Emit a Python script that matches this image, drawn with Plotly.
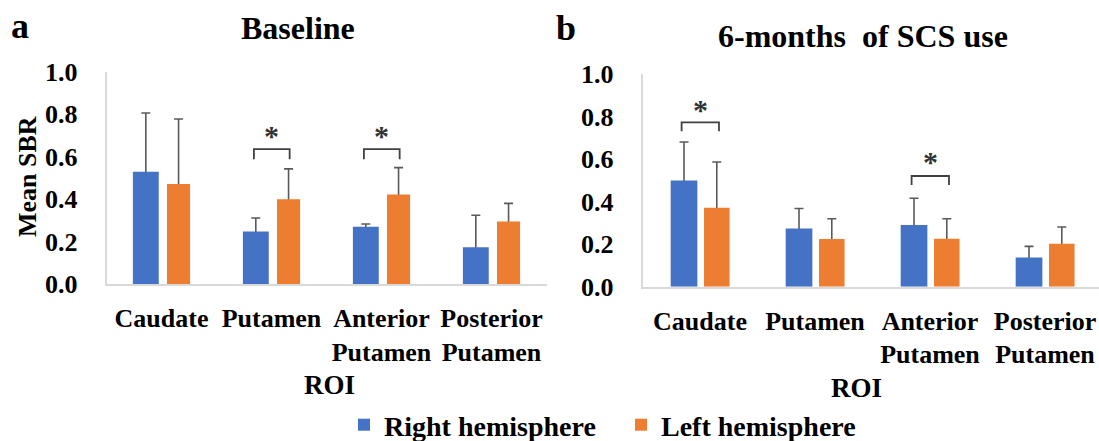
import plotly.graph_objects as go

# ---------------- data ----------------
categories = ["Caudate", "Putamen", "Anterior<br>Putamen", "Posterior<br>Putamen"]
cat_index = [0, 1, 2, 3]

baseline_right = [0.53, 0.248, 0.271, 0.174]
baseline_right_err = [0.276, 0.064, 0.013, 0.151]
baseline_left = [0.472, 0.40, 0.422, 0.295]
baseline_left_err = [0.306, 0.143, 0.127, 0.086]

six_right = [0.50, 0.274, 0.29, 0.138]
six_right_err = [0.181, 0.094, 0.126, 0.052]
six_left = [0.371, 0.225, 0.226, 0.202]
six_left_err = [0.216, 0.095, 0.094, 0.079]

# significance brackets: (panel, category index, bracket top, arm bottom, star y)
brackets = [
    ("a", 1, 0.636, 0.589, 0.70),
    ("a", 2, 0.636, 0.589, 0.70),
    ("b", 0, 0.773, 0.732, 0.836),
    ("b", 2, 0.521, 0.479, 0.59),
]

series_names = ["Right hemisphere", "Left hemisphere"]
BLUE = "#4472C4"
ORANGE = "#ED7D31"
ERR = "#595959"
AXIS = "#D9D9D9"
FONT = "Liberation Serif, Times New Roman, serif"

W, H = 1099, 441
HIDE = 0.012  # lower end of the error bar tucked inside the bar (one-sided look)

fig = go.Figure()

panels = [
    ("", baseline_right, baseline_right_err, baseline_left, baseline_left_err,
     (-0.26, 0.235, 0.05, 0.21), True),
    ("2", six_right, six_right_err, six_left, six_left_err,
     (-0.255, 0.232, 0.035, 0.222), False),
]

for suf, r, re_, l, le_, geom, show in panels:
    xa, ya = "x" + suf, "y" + suf
    bo, bw, oo, ow = geom
    for vals, errs, off, wid, color, name in [
        (r, re_, bo, bw, BLUE, series_names[0]),
        (l, le_, oo, ow, ORANGE, series_names[1]),
    ]:
        # carrier of the one-sided error bars (drawn beneath the visible bars)
        fig.add_trace(go.Bar(
            x=cat_index, y=vals, offset=off, width=wid, xaxis=xa, yaxis=ya,
            marker=dict(color="rgba(0,0,0,0)", line=dict(width=0)),
            error_y=dict(type="data", symmetric=False, array=errs,
                         arrayminus=[HIDE] * len(errs), color=ERR,
                         thickness=1.6, width=4.5),
            showlegend=False, hoverinfo="skip",
        ))
        fig.add_trace(go.Bar(
            x=cat_index, y=vals, offset=off, width=wid, xaxis=xa, yaxis=ya,
            marker=dict(color=color, line=dict(width=0)),
            name=name, showlegend=show,
        ))

tickfont = dict(family=FONT, size=26, color="black", weight="bold")

common_x = dict(
    tickmode="array", tickvals=cat_index, ticktext=categories,
    showline=True, linecolor=AXIS, linewidth=1.5, showgrid=False,
    zeroline=False, ticks="", tickfont=tickfont, ticklabelstandoff=10,
    ticklabeloverflow="allow", fixedrange=True,
)
common_y = dict(
    range=[0, 1.0], dtick=0.2, tickformat=".1f",
    showline=True, linecolor=AXIS, linewidth=1.5, showgrid=False,
    zeroline=False, ticks="", tickfont=tickfont, ticklabelstandoff=22,
    fixedrange=True,
)

RIGHT_START, RIGHT_STEP = 642.5, 115.0

fig.update_layout(
    width=W, height=H,
    font=dict(family=FONT, color="black"),
    margin=dict(l=0, r=0, t=0, b=0, autoexpand=False),
    paper_bgcolor="white", plot_bgcolor="white",
    barmode="overlay",
    xaxis=dict(domain=[106.5 / W, 546.5 / W], range=[-0.5, 3.5], anchor="y", **common_x),
    yaxis=dict(domain=[(H - 284.3) / H, (H - 71.8) / H], anchor="x", **common_y),
    xaxis2=dict(domain=[RIGHT_START / W, 1.0],
                range=[-0.5, -0.5 + (W - RIGHT_START) / RIGHT_STEP],
                anchor="y2", **common_x),
    yaxis2=dict(domain=[(H - 286.7) / H, (H - 74.2) / H], anchor="x2", **common_y),
    legend=dict(
        orientation="h", x=344 / W, xanchor="left", y=(H - 425) / H, yanchor="middle",
        font=dict(family=FONT, size=28, color="black", weight="bold"),
        bgcolor="rgba(0,0,0,0)", itemclick=False, itemdoubleclick=False,
        entrywidth=232, traceorder="normal",
    ),
    showlegend=True,
)

shapes = []
annotations = []
for panel, ci, ytop, ybot, ystar in brackets:
    xr, yr = ("x", "y") if panel == "a" else ("x2", "y2")
    x0, x1 = ci - 0.16, ci + 0.165
    shapes.append(dict(
        type="path", xref=xr, yref=yr,
        path=f"M {x0},{ybot} L {x0},{ytop} L {x1},{ytop} L {x1},{ybot}",
        line=dict(color="#404040", width=1.8),
    ))
    annotations.append(dict(
        x=(x0 + x1) / 2, y=ystar, xref=xr, yref=yr, text="*", showarrow=False,
        font=dict(family=FONT, size=30, color="#333333", weight="bold"),
        xanchor="center", yanchor="middle",
    ))

def pa(text, x, y, size, angle=0):
    annotations.append(dict(
        text=text, x=x / W, y=1 - y / H, xref="paper", yref="paper",
        showarrow=False, xanchor="center", yanchor="middle", textangle=angle,
        font=dict(family=FONT, size=size, color="black", weight="bold"),
    ))

pa("a", 20, 26, 36)
pa("b", 566, 28, 36)
pa("Baseline", 298, 28, 32)
pa("6-months\u00a0\u00a0of SCS use", 863, 36, 32)
pa("Mean SBR", 27, 177, 26, -90)
pa("ROI", 329, 385, 27)
pa("ROI", 856, 388, 27)

fig.update_layout(shapes=shapes, annotations=annotations)

fig.write_html("out.html")
